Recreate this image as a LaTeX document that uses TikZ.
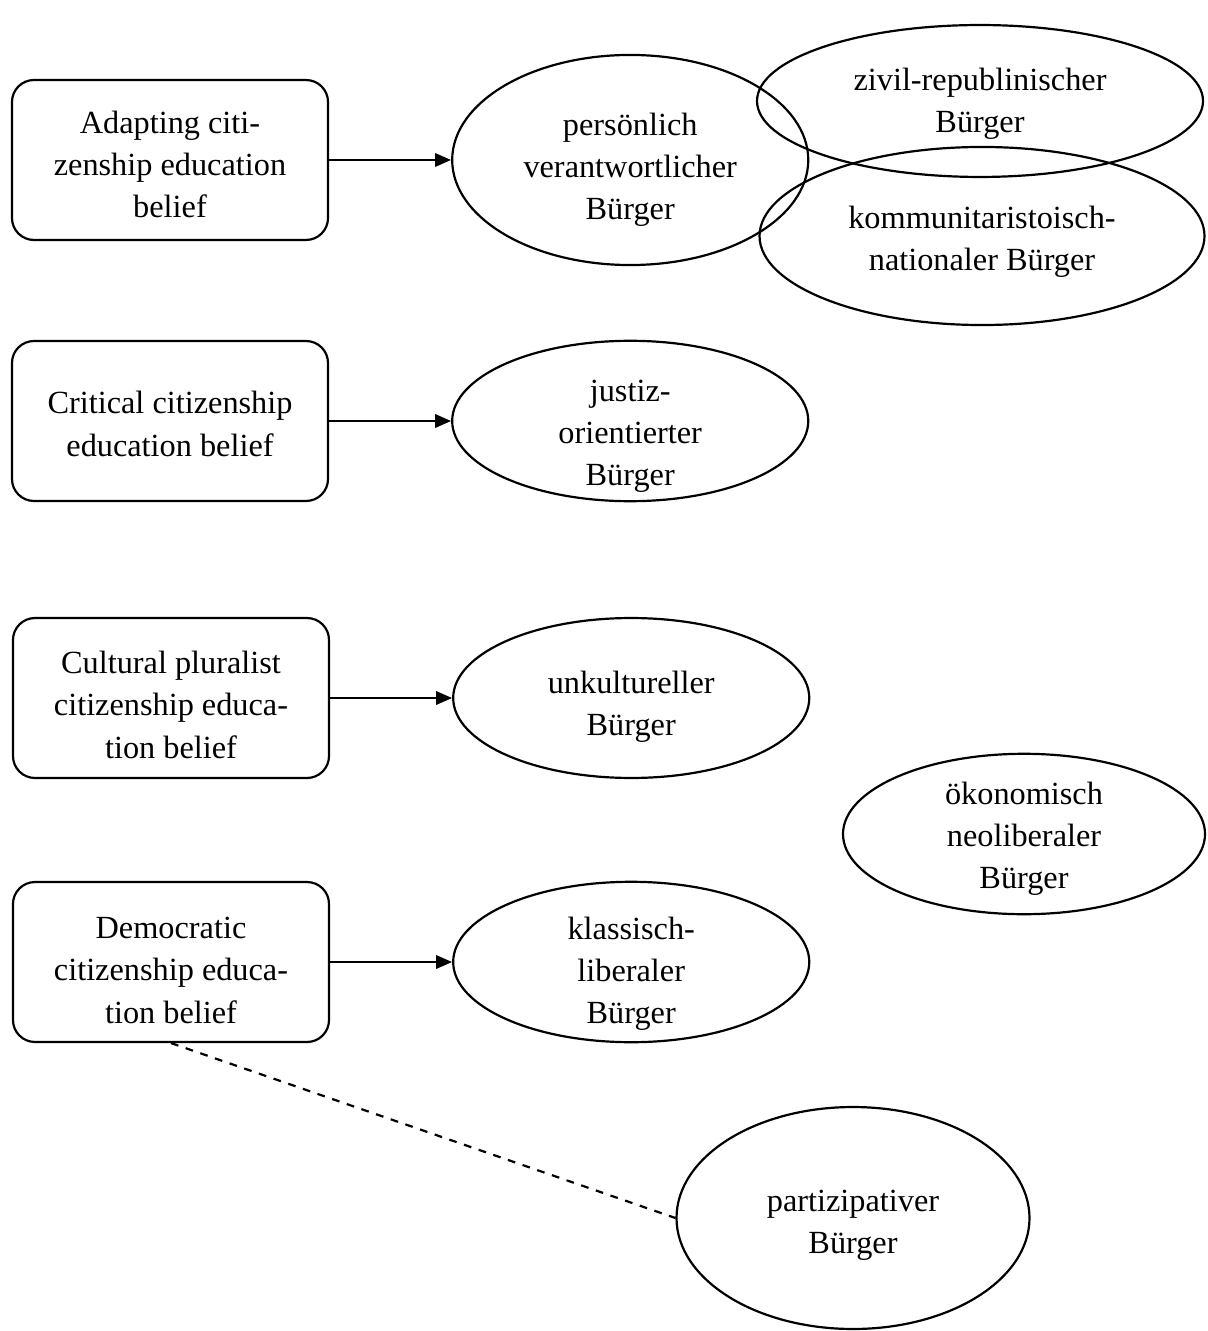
\documentclass[tikz,border=0pt]{standalone}
\usepackage{fontspec}
\setmainfont{Liberation Serif}
\usepackage{tikz}
\usetikzlibrary{arrows.meta,positioning,shapes.geometric}

\begin{document}
\begin{tikzpicture}[
  x=0.387pt,y=-0.387pt,
  node distance=47.2pt,
  font=\fontsize{12.5}{16.3}\selectfont,
  belief/.style={draw,rectangle,rounded corners=8.5pt,minimum width=122.3pt,minimum height=61.9pt,align=center,inner sep=0pt,line width=0.85pt},
  citizen/.style={draw,ellipse,minimum width=137.8pt,minimum height=61.9pt,align=center,inner sep=0pt,line width=0.85pt},
  drop/.style 2 args={inner ysep=-#2,execute at begin node={\rule{0pt}{\dimexpr8.6pt+16.3pt*#1+#2*2\relax}}},
  arr/.style={-{Triangle[length=6.2pt,width=5.2pt]},line width=0.85pt}
]
\useasboundingbox (0,0) rectangle (1207,1331);

% belief boxes
\node[belief,drop={2}{1.9pt}] (adapt) at (170,160) {Adapting citi-\\zenship education\\belief};
\node[belief,drop={1}{1.2pt}] (critical) at (170,421) {Critical citizenship\\education belief};
\node[belief,drop={2}{2.7pt}] (cultural) at (171,698) {Cultural pluralist\\citizenship educa-\\tion belief};
\node[belief,drop={2}{3.1pt}] (democ) at (171,962) {Democratic\\citizenship educa-\\tion belief};

% citizen types
\node[citizen,drop={2}{3.9pt},minimum height=81.3pt,right=of adapt] (pers) {persönlich\\verantwortlicher\\Bürger};
\node[citizen,drop={1}{1.2pt},minimum width=172.6pt,minimum height=58.8pt] (zivil) at (980,101) {zivil-republinischer\\Bürger};
\node[citizen,drop={1}{2.3pt},minimum width=172.2pt,minimum height=68.9pt] (kommun) at (982,236) {kommunitaristoisch-\\nationaler Bürger};
\node[citizen,drop={2}{5.8pt},right=of critical] (justiz) {justiz-\\orientierter\\Bürger};
\node[citizen,drop={1}{3.5pt},right=of cultural] (unkult) {unkultureller\\Bürger};
\node[citizen,drop={2}{1.9pt},minimum width=140.1pt] (oekon) at (1024,834) {ökonomisch\\neoliberaler\\Bürger};
\node[citizen,drop={2}{4.6pt},right=of democ] (klass) {klassisch-\\liberaler\\Bürger};
\node[citizen,drop={1}{2.7pt},minimum width=136.6pt,minimum height=85.9pt] (partiz) at (853,1218) {partizipativer\\Bürger};

\draw[arr] (adapt) -- (pers);
\draw[arr] (critical) -- (justiz);
\draw[arr] (cultural) -- (unkult);
\draw[arr] (democ) -- (klass);
\draw[dashed,line width=0.85pt] (democ.south) -- (partiz.west);

\end{tikzpicture}
\end{document}
